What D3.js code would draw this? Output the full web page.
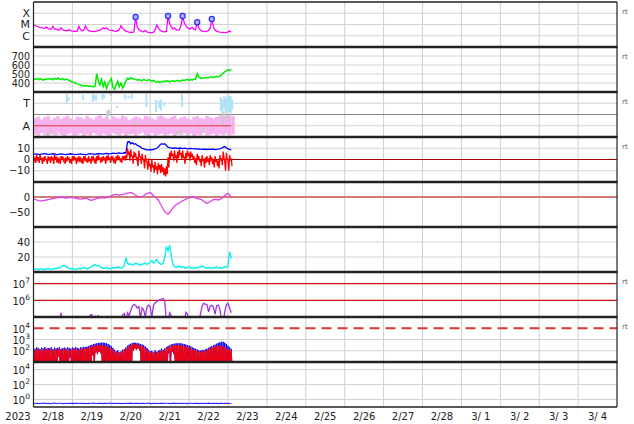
<!DOCTYPE html>
<html><head><meta charset="utf-8">
<script src="https://cdn.jsdelivr.net/npm/d3@7"></script>
<style>
body{margin:0;background:#fff}
text{font-family:"DejaVu Sans",sans-serif;fill:#222}
</style></head><body>
<svg id="c" width="634" height="424"></svg>
<script>
// ---------- DATA (hourly from 2023-02-18 00:00) ----------
const dayLabels = ["2/18","2/19","2/20","2/21","2/22","2/23","2/24","2/25","2/26","2/27","2/28","3/ 1","3/ 2","3/ 3","3/ 4"];
const yearLabel = "2023";
// X-ray flux, units of 1e-6 W/m2
const xray = [9,8,7,6.2,5.6,5.2,4.8,4.6,6,4.3,
 4.1,4,7,4,3.6,3.4,3.2,5,3.4,3,
 2.9,2.8,3.6,2.8,2.6,2.5,2.5,2.6,7,3.5,
 2.6,3,7.5,4,2.8,2.6,2.5,2.4,2.5,2.6,
 2.8,3.2,3.8,5,4.2,5,3.6,3.2,3,2.8,
 2.6,2.5,2.8,3.5,7.5,4.5,3.2,2.6,2.3,2.1,
 2,2,2.2,47,6,3.5,2.8,2.5,2.3,3,
 2.2,2,1.9,1.9,2.1,3,9,5,3.2,2.6,
 2.3,2.2,2.4,57,12,6,4,5,3.5,3,
 3.4,8,57,14,8,5,4,4.5,5.5,3.8,
 3.4,16,5,3.2,2.6,2.4,2.3,2.4,3,5,
 31,6,3.2,2.6,2.3,2.1,2,2,1.9,2,
 2.2,2.6,2];
const flareHour = [63,83,92,101,110];
const flareFlux = [47,57,57,16,31];
const xrayTicks = [["X",100],["M",10],["C",1]];
// solar wind speed km/s
const speed = [445,440,452,436,448,442,430,446,438,450,
 441,447,435,452,440,456,444,438,450,432,
 445,440,428,420,412,405,398,390,385,378,
 372,370,365,372,362,368,360,358,365,505,
 420,380,440,360,410,340,390,420,450,350,
 330,380,420,360,400,345,380,420,455,440,
 462,450,445,440,432,438,430,425,440,432,
 425,438,430,420,428,415,410,418,405,412,
 420,418,425,422,415,420,428,418,424,430,
 420,425,432,428,435,440,430,438,432,445,
 440,505,465,455,450,460,455,462,458,465,
 470,462,468,472,470,478,490,510,525,535,
 548,540,552];
const speedTicks = [400,500,600,700];
// IMF phi (deg), 2-hour bins
const pinkHi = [150,165,140,160,170,135,155,168,145,160,
 172,150,138,162,158,145,170,152,140,165,
 175,150,160,142,168,155,148,172,160,138,
 150,165,158,144,170,162,150,140,166,172,
 155,148,160,170,145,158,165,150,140,160,
 168,152,145,170,158,150,162,172,165,175,
 170,168];
const pinkLo = [20,10,30,15,5,25,12,35,18,8,
 22,30,10,15,28,5,20,12,32,18,
 10,25,15,8,30,20,12,28,5,18,
 25,10,22,35,15,8,30,12,20,26,
 10,18,28,5,22,15,30,12,25,8,
 20,14,32,10,18,25,8,22,15,28,
 12,20];
const towardHour = [20,21,30,36,37,38,42,43,51,56,58,60,69,75,77,78,80,91,115,116,117,118,119,120,121,122];
const towardLo = [272,290,296,280,300,290,296,310,232,300,310,305,240,200,230,210,250,240,210,200,230,192,215,200,190,220];
const towardHi = [344,320,336,344,330,340,344,336,248,340,330,344,344,296,290,300,280,344,320,300,330,310,340,325,330,300];
const greyHour = [8,10,14,45,46,47,62,88,90,104,116,118,120];
const greyLo = [10,20,15,150,170,330,100,20,30,40,100,150,120];
const greyHi = [40,60,35,210,220,350,130,50,60,70,200,230,180];
const phiTicks = [["T",270],["A",90]];
// IMF Bt (nT)
const bt = [4.5,4.8,5,4.6,4.4,4.7,5,5.2,4.9,4.6,
 4.5,4.8,5.1,4.9,4.6,4.4,4.7,5,4.8,4.5,
 4.3,4.6,4.9,5.1,4.8,4.5,4.4,4.6,4.8,5,
 4.7,4.5,4.4,4.6,4.9,5.2,5,4.8,4.6,4.9,
 5.1,5.3,5,4.8,5.2,5.5,5.3,5,5.2,5.6,
 5.4,5.2,5.6,5.8,5.5,5.7,6,5.8,15.5,16,
 14,15,13.5,14,12.5,12,11,10,9.5,9,
 8.5,8.5,8.8,8.5,9,9.5,10,11,13,14,
 13.5,14,12.5,11,10.5,10.2,10,10.4,10.1,9.8,
 10.2,10,9.7,10,9.8,9.5,9.7,9.9,9.6,9.4,
 9.6,9.3,9.5,9.2,9,9.3,9.1,8.9,9.2,9,
 9.3,9.1,8.8,9,9.2,9.5,10,11,11.5,10.5,
 9.5,9,8.5];
// IMF Bz hourly max / min (nT)
const bzHi = [3,1,4,2,4,1,2,3,0,3,
 2,3,1,4,2,2,0,3,3,1,
 2,3,1,0,3,3,1,2,3,1,
 1,3,2,1,3,0,3,2,0,3,
 4,1,2,3,1,3,4,1,3,2,
 0,3,4,2,1,3,3,4,10,7,
 9,3,7,6,1,8,2,5,0,4,
 -2,1,-4,0,-5,-2,-6,-3,-5,-4,
 -7,-8,-6,2,6,8,5,8,3,7,
 9,6,8,2,6,8,5,7,5,3,
 1,5,3,0,4,-1,2,3,1,4,
 2,0,3,0,-1,4,1,7,-2,6,
 -1,4,1];
const bzLo = [-1,-3,0,-3,1,-4,-2,0,-4,-1,
 -3,0,-4,1,-3,-2,-4,0,-1,-4,
 -2,0,-3,-4,-1,0,-4,-2,-1,-3,
 -4,0,-2,-3,-1,-4,0,-2,-4,-1,
 1,-3,-2,0,-4,-1,1,-3,0,-2,
 -4,-1,1,-2,-3,0,-1,1,4,-1,
 3,-4,2,0,-6,3,-4,0,-8,-1,
 -9,-6,-11,-7,-12,-9,-13,-9,-12,-11,
 -14,-15,-13,-7,0,3,-1,2,-3,1,
 4,0,2,-4,1,4,-1,2,0,-3,
 -5,1,-2,-6,-1,-7,-3,-2,-5,0,
 -4,-7,-2,-6,-8,-1,-5,2,-10,0,
 -10,-1,-6];
const bTicks = [[10,"10"],[0,"0"],[-10,"\u221210"]];
// Dst (nT)
const dst = [-7,-8,-10,-12,-13,-13,-12,-11,-10,-9,
 -8,-6,-5,-4,-3,-2,-1,0,-1,-3,
 -4,-3,-2,-1,-2,-3,-4,-5,-6,-7,
 -6,-5,-4,-5,-8,-10,-11,-9,-7,-5,
 -4,-3,-2,-3,-4,-2,0,2,4,6,
 8,9,8,6,8,8,10,12,13,14,
 15,13,10,6,3,1,0,1,4,8,
 12,14,15,10,4,0,-4,-10,-20,-30,
 -40,-48,-55,-57,-52,-44,-36,-30,-26,-22,
 -19,-16,-13,-10,-7,-5,-3,-1,0,-1,
 -3,-5,-6,-8,-10,-14,-18,-21,-19,-15,
 -12,-9,-8,-9,-10,-8,-5,-1,4,9,
 12,7,-4];
const dstTicks = [[0,"0"],[-50,"\u221250"]];
// density
const dens = [4,3.5,4,3,4.5,3.5,4,3,4,5,
 4,3.5,4,5,4,6,5,7,8,9,
 7,6,5,4,5,4,3.5,4,5,4,
 5,6,5,4,5,6,8,9,10,8,
 9,7,6,5,5,6,5,4,5,6,
 5,6,7,6,5,6,8,19,12,10,
 11,9,10,12,11,10,9,10,11,12,
 10,11,13,15,12,14,17,13,11,10,
 12,20,34,28,36,22,10,7,6,7,
 8,6,7,6,5,6,7,5,6,5,
 6,5,7,6,8,7,6,5,6,5,
 6,5,6,7,5,6,5,6,7,6,
 8,27,18];
const densTicks = [20,40];
// electron flux, units of 1e5
const eflux = [.3,.3,.3,.3,.3,.3,.3,.3,.3,.3,
 .3,.3,.3,.3,.3,.3,.4,1.8,.4,.3,
 .3,.3,.3,.3,.3,.3,.3,.3,.3,.3,
 .3,.3,.3,.3,.4,1.3,1.4,.5,1.2,.4,
 1.3,.4,.3,.3,.3,.3,.3,.3,.3,.3,
 .3,.3,.3,.3,.5,1.3,1.6,.6,1.8,1.2,
 2.5,4.5,5.8,5,3.5,4.2,.8,3.5,2.6,1,
 4,5.2,4,.9,5,7,8.5,9.5,11,12,
 13,9,.5,.4,1.8,1.2,.4,.3,.3,.3,
 .3,.3,.3,.4,1.9,1.5,.4,.3,.3,.3,
 .3,.3,.4,1.5,4.5,6.6,6,5.5,2,4.5,
 5,4,1.5,4.8,5.2,3,.6,.5,2,5.5,
 6.6,3.5,1.8];
const efluxLines = [10,100];
const efluxTicks = [[10,"6"],[100,"7"]];
// particle flux (hourly upper / lower envelope)
const blueHi = [180,150,200,170,140,190,160,210,150,180,
 170,200,140,190,160,180,210,150,170,190,
 160,200,180,150,190,170,210,180,160,200,
 190,220,210,230,260,300,340,380,420,450,
 480,500,520,520,500,460,400,330,250,180,
 120,90,110,70,90,120,140,200,280,350,
 420,480,520,500,480,440,400,360,300,240,
 180,120,90,100,70,110,80,100,120,150,
 120,160,210,260,310,360,400,430,450,460,
 460,450,420,390,350,320,280,240,200,170,
 150,130,110,100,120,110,130,150,180,220,
 260,300,350,420,500,570,620,630,520,400,
 280,200,150];
const redHi = [130,110,150,120,100,140,120,160,110,130,
 120,150,100,140,120,130,160,110,120,140,
 110,150,130,100,140,120,160,130,110,150,
 140,160,150,170,190,220,250,280,300,320,
 330,320,320,300,280,250,220,180,150,120,
 90,70,80,60,70,90,110,150,200,260,
 320,360,400,380,350,320,290,250,200,160,
 120,90,70,80,60,80,60,80,90,110,
 90,120,160,200,240,280,300,320,330,330,
 320,310,290,270,240,220,190,160,140,120,
 110,100,90,80,90,80,100,110,130,160,
 190,220,250,270,280,270,260,240,200,160,
 140,130,110];
const fluxLo = [3,3,3,3,3,3,3,3,3,3,
 3,3,3,3,3,30,3,3,3,3,
 3,3,25,3,3,3,3,3,3,3,
 3,3,3,3,3,3,40,3,70,50,
 80,60,3,3,3,3,3,3,3,3,
 3,3,3,3,3,3,3,3,3,3,
 3,100,150,120,160,110,3,3,3,3,
 3,3,3,3,3,3,3,3,3,3,
 3,3,3,60,3,80,50,3,3,3,
 3,3,3,3,3,3,3,3,3,3,
 3,3,3,3,3,3,3,3,3,3,
 3,3,3,3,3,3,3,3,3,3,
 3,3,3];
const fluxTicks = [[100,"2"],[1000,"3"],[10000,"4"]];
const fluxGrid = [100,1000];
const fluxThreshold = 10000;
// bottom panel
const low = [.31,.29,.32,.30,.28,.31,.33,.30,.29,.32,
 .30,.28,.31,.33,.29,.30,.32,.31,.28,.30,
 .32,.29,.31,.30,.33,.28,.30,.31,.29,.32,
 .30,.31,.28,.30,.32,.29,.31,.33,.30,.29,
 .31,.30,.32,.28,.30,.31,.29,.33,.31,.30,
 .29,.32,.30,.31,.28,.30,.32,.29,.31,.30,
 .33,.30,.29,.31,.30,.32,.28,.31,.30,.29,
 .31,.33,.30,.28,.31,.30,.32,.29,.30,.31,
 .30,.29,.32,.31,.28,.30,.33,.30,.31,.29,
 .32,.30,.31,.29,.30,.28,.31,.32,.30,.29,
 .31,.30,.28,.32,.30,.29,.31,.30,.33,.30,
 .29,.31,.30,.32,.28,.30,.31,.29,.30,.32,
 .30,.29,.31];
const lowTicks = [[1,"0"],[100,"2"],[10000,"4"]];

// ---------- CHART ----------
const START = Date.UTC(2023,1,18), END = Date.UTC(2023,2,5), HOUR = 3600e3;
const tOf = h => new Date(START + h*HOUR);
const L = 33.5, R = 617, PH = 45, TOP0 = 2;
const x = d3.scaleUtc().domain([new Date(START), new Date(END)]).range([L, R]);
const svg = d3.select("#c");
const ptop = i => TOP0 + PH*i;
const defs = svg.append("defs");
for (let i=0;i<9;i++) defs.append("clipPath").attr("id","cp"+i).append("rect")
  .attr("x",L).attr("y",ptop(i)).attr("width",R-L).attr("height",PH);

const ys = [
  d3.scaleLog().domain([0.1,1000]).range([ptop(1),ptop(0)]),
  d3.scaleLinear().domain([300,800]).range([ptop(2),ptop(1)]),
  d3.scaleLinear().domain([0,360]).range([ptop(3),ptop(2)]),
  d3.scaleLinear().domain([-20,20]).range([ptop(4),ptop(3)]),
  d3.scaleLinear().domain([-100,50]).range([ptop(5),ptop(4)]),
  d3.scaleLinear().domain([0,60]).range([ptop(6),ptop(5)]),
  d3.scaleLog().domain([1,500]).range([ptop(7),ptop(6)]),
  d3.scaleLog().domain([10,1e5]).range([ptop(8),ptop(7)]),
  d3.scaleLog().domain([0.1,1e5]).range([ptop(9),ptop(8)])
];
const grid = svg.append("g");
const hgrid = (i, vals, color="#d2d2d2") => vals.forEach(v =>
  grid.append("line").attr("x1",L).attr("x2",R).attr("y1",ys[i](v)).attr("y2",ys[i](v))
   .attr("stroke",color).attr("stroke-width",1));
hgrid(0, xrayTicks.map(d=>d[1]));
hgrid(1, speedTicks);
hgrid(2, phiTicks.map(d=>d[1]));
hgrid(3, [10,-10]);
hgrid(5, densTicks);
hgrid(7, fluxGrid);
hgrid(8, lowTicks.map(d=>d[0]));
// vertical day grid
d3.utcDay.range(tOf(24), tOf(360)).forEach(d =>
  grid.append("line").attr("x1",x(d)).attr("x2",x(d)).attr("y1",ptop(0)).attr("y2",ptop(9))
   .attr("stroke","#cfcfcf").attr("stroke-width",1));
// phi mid line
grid.append("line").attr("x1",L).attr("x2",R).attr("y1",ys[2](180)).attr("y2",ys[2](180))
  .attr("stroke","#888").attr("stroke-width",1);
// zero lines
grid.append("line").attr("x1",L).attr("x2",R).attr("y1",ys[3](0)).attr("y2",ys[3](0))
  .attr("stroke","#a00000").attr("stroke-width",1.2);
grid.append("line").attr("x1",L).attr("x2",R).attr("y1",ys[4](0)).attr("y2",ys[4](0))
  .attr("stroke","#d07a7a").attr("stroke-width",2.2);
efluxLines.forEach(v => grid.append("line").attr("x1",L).attr("x2",R).attr("y1",ys[6](v)).attr("y2",ys[6](v))
  .attr("stroke","#cc1111").attr("stroke-width",1.3));
grid.append("line").attr("x1",L).attr("x2",R).attr("y1",ys[7](fluxThreshold)).attr("y2",ys[7](fluxThreshold))
  .attr("stroke","#e03535").attr("stroke-width",1.8).attr("stroke-dasharray","10,6");

const panel = i => svg.append("g").attr("clip-path",`url(#cp${i})`);
const lineOf = (arr, y) => d3.line().x((d,i)=>x(tOf(i))).y(d=>y(d))(arr);
const zigOf = (hi, lo, y) => { const pts=[]; hi.forEach((v,i)=>{pts.push([tOf(i),v]);pts.push([tOf(i+0.5),lo[i]]);});
  return d3.line().x(d=>x(d[0])).y(d=>y(d[1]))(pts); };

// Panel 1: X-ray
const g0 = panel(0);
g0.append("path").attr("d",lineOf(xray,ys[0])).attr("fill","none").attr("stroke","#ff00ff").attr("stroke-width",1.3);
g0.selectAll("circle").data(flareHour).join("circle")
  .attr("cx",(d)=>x(tOf(d))).attr("cy",(d,i)=>ys[0](flareFlux[i])).attr("r",2.6)
  .attr("fill","#b4b4ff").attr("stroke","#2a2aff").attr("stroke-width",1.2);

// Panel 2: speed
panel(1).append("path").attr("d",lineOf(speed,ys[1])).attr("fill","none").attr("stroke","#00ee00").attr("stroke-width",1.5);

// Panel 3: phi
const g2 = panel(2);
pinkHi.forEach((hi,i)=>g2.append("rect").attr("x",x(tOf(i*2))).attr("width",x(tOf(2))-x(tOf(0))+0.3)
  .attr("y",ys[2](hi)).attr("height",ys[2](pinkLo[i])-ys[2](hi)).attr("fill","#f6b3ef"));
greyHour.forEach((h,i)=>g2.append("rect").attr("x",x(tOf(h))).attr("width",2)
  .attr("y",ys[2](greyHi[i])).attr("height",ys[2](greyLo[i])-ys[2](greyHi[i])).attr("fill","#c8c8c8"));
towardHour.forEach((h,i)=>g2.append("rect").attr("x",x(tOf(h))).attr("width",2)
  .attr("y",ys[2](towardHi[i])).attr("height",ys[2](towardLo[i])-ys[2](towardHi[i])).attr("fill","#aee2f6"));
g2.append("line").attr("x1",x(tOf(0))).attr("x2",x(tOf(xray.length-1))).attr("y1",ys[2](90)).attr("y2",ys[2](90))
  .attr("stroke","#dd3333").attr("stroke-width",1.2);

// Panel 4: Bt, Bz
const g3 = panel(3);
g3.append("path").attr("d",lineOf(bt,ys[3])).attr("fill","none").attr("stroke","#0000ff").attr("stroke-width",1.3);
g3.append("path").attr("d",zigOf(bzHi,bzLo,ys[3])).attr("fill","none").attr("stroke","#ff0000").attr("stroke-width",1.3);

// Panel 5: Dst
panel(4).append("path").attr("d",lineOf(dst,ys[4])).attr("fill","none").attr("stroke","#e040e0").attr("stroke-width",1.3);

// Panel 6: density
panel(5).append("path").attr("d",lineOf(dens,ys[5])).attr("fill","none").attr("stroke","#11eeee").attr("stroke-width",1.4);

// Panel 7: electron flux
panel(6).append("path").attr("d",lineOf(eflux,ys[6])).attr("fill","none").attr("stroke","#a035dd").attr("stroke-width",1.3);

// Panel 8: particle flux
const g7 = panel(7);
g7.append("path").attr("d",zigOf(blueHi,fluxLo,ys[7])).attr("fill","none").attr("stroke","#0000ff").attr("stroke-width",1);
g7.append("path").attr("d",zigOf(redHi,fluxLo,ys[7])).attr("fill","none").attr("stroke","#ff0000").attr("stroke-width",1);

// Panel 9
panel(8).append("path").attr("d",lineOf(low,ys[8])).attr("fill","none").attr("stroke","#2a2aff").attr("stroke-width",1.1);

// frame
const fr = svg.append("g");
for (let i=1;i<9;i++) fr.append("line").attr("x1",L-0.5).attr("x2",R+0.5).attr("y1",ptop(i)).attr("y2",ptop(i))
  .attr("stroke","#222").attr("stroke-width",2.6);
fr.append("line").attr("x1",L).attr("x2",R).attr("y1",ptop(0)).attr("y2",ptop(0)).attr("stroke","#222").attr("stroke-width",1.3);
fr.append("line").attr("x1",L).attr("x2",R).attr("y1",ptop(9)).attr("y2",ptop(9)).attr("stroke","#222").attr("stroke-width",1.3);
[L,R].forEach(xx=>fr.append("line").attr("x1",xx).attr("x2",xx).attr("y1",ptop(0)).attr("y2",ptop(9)).attr("stroke","#222").attr("stroke-width",1.2));

// labels
const lab = svg.append("g").attr("font-size",10);
const TX = 30;
const plain = (i, v, s, fs) => lab.append("text").attr("x",TX).attr("y",ys[i](v)+3.6).attr("text-anchor","end")
  .attr("font-size",fs||10).text(s);
xrayTicks.forEach(d=>lab.append("text").attr("x",TX).attr("y",ys[0](d[1])+3.8).attr("text-anchor","end").attr("font-size",11).text(d[0]));
speedTicks.forEach(v=>plain(1,v,String(v),9.6));
phiTicks.forEach(d=>lab.append("text").attr("x",TX).attr("y",ys[2](d[1])+3.8).attr("text-anchor","end").attr("font-size",11).text(d[0]));
bTicks.forEach(d=>plain(3,d[0],d[1]));
dstTicks.forEach(d=>plain(4,d[0],d[1]));
densTicks.forEach(v=>plain(5,v,String(v)));
const sup = (i, v, e) => { const t = lab.append("text").attr("x",TX).attr("y",ys[i](v)+4.5).attr("text-anchor","end");
  t.append("tspan").text("10"); t.append("tspan").attr("dy",-5).attr("font-size",7.5).text(e); };
efluxTicks.forEach(d=>sup(6,d[0],d[1]));
fluxTicks.forEach(d=>sup(7,d[0],d[1]));
lowTicks.forEach(d=>sup(8,d[0],d[1]));
// rt markers
[0,1,2,3,6,7].forEach(i=>svg.append("text").attr("x",622).attr("y",ptop(i)+12).attr("font-size",7).style("fill","#555").text("rt"));
// x labels
lab.append("text").attr("x",18).attr("y",419.5).attr("text-anchor","middle").text(yearLabel);
d3.utcDay.range(tOf(0), tOf(360)).forEach((d,i)=>
  lab.append("text").attr("x",x(new Date(+d+12*HOUR))).attr("y",419.5).attr("text-anchor","middle")
   .style("white-space","pre").text(dayLabels[i]));
</script>
</body></html>
